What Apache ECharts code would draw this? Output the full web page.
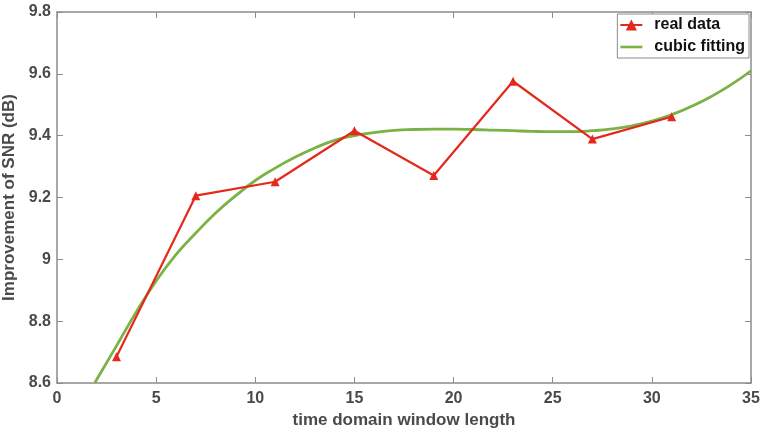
<!DOCTYPE html>
<html>
<head>
<meta charset="utf-8">
<script src="https://cdn.jsdelivr.net/npm/echarts@6/dist/echarts.min.js"></script>
<style>
  html, body { margin: 0; padding: 0; background: #fff; }
  #chart { width: 761px; height: 432px; }
</style>
</head>
<body>
<div id="chart"></div>
<script>
// real data (measured points)
const realX = [3, 7, 11, 15, 19, 23, 27, 31];
const realY = [8.685, 9.206, 9.251, 9.416, 9.271, 9.576, 9.389, 9.461];

// cubic fitting curve
const fitX = [1.9, 3, 4, 5, 6, 7, 8, 9, 10, 11, 12, 13, 14, 15, 16, 17, 18, 19, 20, 21, 22, 23, 24, 25, 26, 27, 28, 29, 30, 31, 32, 33, 34, 35];
const fitY = [8.60, 8.72, 8.83, 8.93, 9.015, 9.085, 9.15, 9.205, 9.255, 9.295, 9.33, 9.36, 9.385, 9.40, 9.41, 9.417, 9.42, 9.421, 9.421, 9.42, 9.418, 9.416, 9.414, 9.413, 9.413, 9.416, 9.422, 9.432, 9.447, 9.468, 9.495, 9.527, 9.565, 9.61];

const xTicks = { min: 0, max: 35, interval: 5 };
const yTicks = { min: 8.6, max: 9.8, interval: 0.2 };

const axisGray = "#8c8c8c";
const labelGray = "#4a4a4a";

let myChart = echarts.init(document.getElementById("chart"));

function boxAxis(pos, base, showLabel) {
  return Object.assign({
    type: "value",
    position: pos,
    axisLine: { show: true, onZero: false, lineStyle: { color: axisGray, width: 1.5 } },
    axisTick: { show: true, inside: true, length: 6, lineStyle: { color: axisGray } },
    splitLine: { show: false },
    axisLabel: { show: showLabel }
  }, base);
}

myChart.setOption({
  animation: false,
  grid: { left: 57, right: 10, top: 12, bottom: 49, outerBoundsMode: "none", containLabel: false },
  legend: {
    right: 12,
    top: 14,
    orient: "vertical",
    itemWidth: 22,
    itemHeight: 14,
    itemGap: 6,
    padding: [3, 4, 3, 2],
    borderColor: "#8c8c8c",
    borderWidth: 1,
    backgroundColor: "#fff",
    textStyle: { fontFamily: "Liberation Sans", fontWeight: "bold", fontSize: 16, color: "#111", padding: [0, 0, 0, 7] },
    data: [
      { name: "real data" },
      // plain line, no marker, for the fitted curve
      { name: "cubic fitting", icon: "path://M0,0 L22,0 L22,2.6 L0,2.6 Z" }
    ]
  },
  xAxis: [
    boxAxis("bottom", {
      min: xTicks.min, max: xTicks.max, interval: xTicks.interval,
      name: "time domain window length",
      nameLocation: "middle",
      nameGap: 29,
      nameTextStyle: { fontFamily: "Liberation Sans", fontWeight: "bold", fontSize: 17, color: labelGray },
      axisLabel: { show: true, margin: 8, fontFamily: "Liberation Sans", fontWeight: "bold", fontSize: 16, color: labelGray }
    }, true),
    boxAxis("top", { min: xTicks.min, max: xTicks.max, interval: xTicks.interval }, false)
  ],
  yAxis: [
    boxAxis("left", {
      min: yTicks.min, max: yTicks.max, interval: yTicks.interval,
      name: "Improvement of SNR (dB)",
      nameLocation: "middle",
      nameGap: 33,
      nameTextStyle: { fontFamily: "Liberation Sans", fontWeight: "bold", fontSize: 17, color: labelGray },
      axisLabel: {
        show: true, margin: 6, fontFamily: "Liberation Sans", fontWeight: "bold", fontSize: 16, color: labelGray,
        formatter: v => String(+v.toFixed(1))
      }
    }, true),
    boxAxis("right", { min: yTicks.min, max: yTicks.max, interval: yTicks.interval }, false)
  ],
  series: [
    {
      name: "cubic fitting",
      type: "line",
      data: fitX.map((x, i) => [x, fitY[i]]),
      smooth: true,
      showSymbol: false,
      symbol: "none",
      lineStyle: { color: "#7ab245", width: 2.8 },
      itemStyle: { color: "#7ab245" },
      z: 2
    },
    {
      name: "real data",
      type: "line",
      data: realX.map((x, i) => [x, realY[i]]),
      symbol: "triangle",
      symbolSize: 9,
      lineStyle: { color: "#e5281c", width: 2.2 },
      itemStyle: { color: "#e5281c" },
      z: 3
    }
  ]
});
</script>
</body>
</html>
